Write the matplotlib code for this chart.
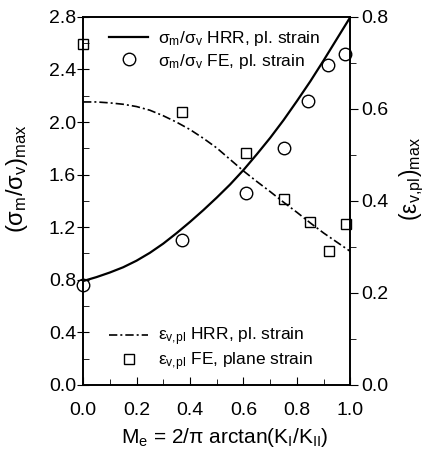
import numpy as np
import matplotlib
matplotlib.use('Agg')
import matplotlib.pyplot as plt
from matplotlib.ticker import MultipleLocator

plt.rcParams['font.family'] = ['Liberation Sans', 'DejaVu Sans']
plt.rcParams['mathtext.fontset'] = 'custom'
plt.rcParams['mathtext.rm'] = 'Liberation Sans'
plt.rcParams['mathtext.it'] = 'Liberation Sans'
plt.rcParams['mathtext.default'] = 'regular'

# HRR curves
hrr_x = [0.0, 0.05, 0.1, 0.15, 0.2, 0.25, 0.3, 0.35, 0.4, 0.45, 0.5,
         0.55, 0.6, 0.65, 0.7, 0.75, 0.8, 0.85, 0.9, 0.95, 1.0]
hrr_sigma = [0.79, 0.82, 0.855, 0.895, 0.945, 1.005, 1.075, 1.155, 1.24, 1.33, 1.425,
             1.525, 1.635, 1.755, 1.88, 2.015, 2.16, 2.31, 2.47, 2.635, 2.80]
hrr_eps = [0.615, 0.615, 0.613, 0.610, 0.605, 0.597, 0.585, 0.571, 0.555, 0.536, 0.515,
           0.490, 0.465, 0.442, 0.420, 0.397, 0.375, 0.352, 0.330, 0.310, 0.290]

# FE results
fe_sig_x = [0.0, 0.37, 0.61, 0.75, 0.84, 0.915, 0.98]
fe_sig_y = [0.76, 1.10, 1.46, 1.80, 2.16, 2.43, 2.52]
fe_eps_x = [0.0, 0.37, 0.61, 0.75, 0.85, 0.92, 0.985]
fe_eps_y = [0.74, 0.593, 0.505, 0.405, 0.355, 0.292, 0.349]

fig = plt.figure(figsize=(4.37, 4.55), dpi=100)
ax = fig.add_axes([0.19, 0.154, 0.612, 0.809])
ax2 = ax.twinx()

l1, = ax.plot(hrr_x, hrr_sigma, color='k', lw=1.6)
l2, = ax.plot(fe_sig_x, fe_sig_y, 'o', mfc='none', mec='k', ms=9.0, mew=1.0,
              clip_on=False)
l3, = ax2.plot(hrr_x, hrr_eps, color='k', lw=1.2, dashes=(5, 1.8, 1.2, 1.8))
l4, = ax2.plot(fe_eps_x, fe_eps_y, 's', mfc='none', mec='k', ms=7.0, mew=1.0,
               clip_on=False)

ax.set_xlim(0, 1)
ax.set_ylim(0, 2.8)
ax2.set_ylim(0, 0.8)

ax.xaxis.set_minor_locator(MultipleLocator(0.1))
ax.yaxis.set_minor_locator(MultipleLocator(0.2))
ax2.yaxis.set_minor_locator(MultipleLocator(0.1))

ax.set_xticks(np.arange(0, 1.01, 0.2))
ax.set_xticklabels(['%.1f' % v for v in np.arange(0, 1.01, 0.2)])
ax.set_yticks(np.arange(0, 2.81, 0.4))
ax.set_yticklabels(['%.1f' % v for v in np.arange(0, 2.81, 0.4)])
ax2.set_yticks(np.arange(0, 0.81, 0.2))
ax2.set_yticklabels(['%.1f' % v for v in np.arange(0, 0.81, 0.2)])

ax.tick_params(axis='x', which='both', direction='in', top=False, labelsize=14, pad=12)
ax.tick_params(axis='x', which='major', length=6)
ax.tick_params(axis='x', which='minor', length=4)
ax.tick_params(axis='y', which='major', direction='inout', right=False, labelsize=14,
               length=8, pad=1)
ax.tick_params(axis='y', which='minor', direction='in', right=False, length=4)
ax2.tick_params(axis='y', which='both', direction='out', labelsize=14, pad=2)
ax2.tick_params(axis='y', which='major', length=6)
ax2.tick_params(axis='y', which='minor', length=4)

for a in (ax, ax2):
    for s in a.spines.values():
        s.set_linewidth(1.2)

ax.set_xlabel(r'M$_e$ = 2/$\pi$ arctan(K$_I$/K$_{II}$)', fontsize=15)
ax.xaxis.set_label_coords(0.53, -0.112)
ax.set_ylabel(r'($\sigma_m$/$\sigma_v$)$_{max}$', fontsize=17)
ax.yaxis.set_label_coords(-0.2, 0.56)
ax2.set_ylabel(r'($\epsilon_{v,\!pl}$)$_{max}$', fontsize=16.5, rotation=90)
ax2.yaxis.set_label_coords(1.175, 0.56)

leg1 = ax2.legend([l1, l2],
                  [r'$\sigma_m$/$\sigma_v$ HRR, pl. strain',
                   r'$\sigma_m$/$\sigma_v$ FE, pl. strain'],
                  loc='upper left', bbox_to_anchor=(0.06, 0.995), frameon=False,
                  fontsize=12.5, handlelength=2.2, handletextpad=0.6,
                  labelspacing=0.2, borderaxespad=0.2)
ax2.add_artist(leg1)
ax2.legend([l3, l4],
           [r'$\epsilon_{v,\!pl}$ HRR, pl. strain',
            r'$\epsilon_{v,\!pl}$ FE, plane strain'],
           loc='lower left', bbox_to_anchor=(0.06, 0.005), frameon=False,
           fontsize=12.5, handlelength=2.2, handletextpad=0.6,
           labelspacing=0.1, borderaxespad=0.2)

fig.savefig('out.png', dpi=100)
